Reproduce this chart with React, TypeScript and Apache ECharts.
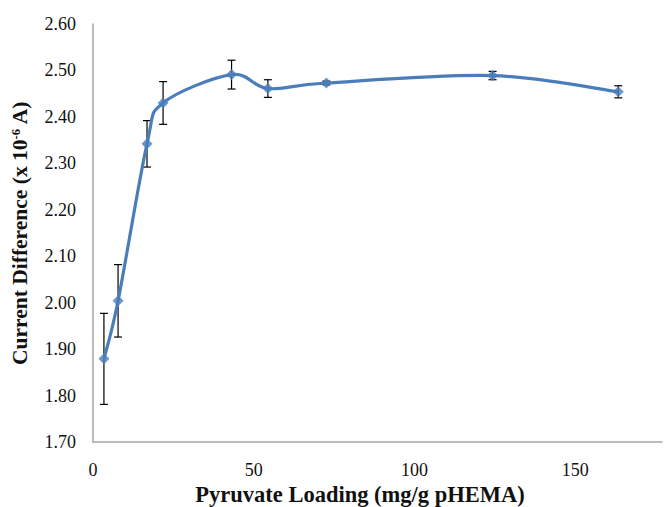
import React, { useEffect, useRef } from "react";
import * as echarts from "echarts";

const loading = [3.4, 7.8, 16.8, 21.8, 43.1, 54.4, 72.6, 124.3, 163.4];
const current = [1.879, 2.004, 2.342, 2.43, 2.491, 2.461, 2.473, 2.489, 2.454];
const errors = [0.098, 0.078, 0.05, 0.046, 0.031, 0.019, 0.004, 0.009, 0.013];
const xTicks = [0, 50, 100, 150];
const yTickLabels = ["1.70", "1.80", "1.90", "2.00", "2.10", "2.20", "2.30", "2.40", "2.50", "2.60"];

const SERIF = "Liberation Serif";
const BLUE = "#4a7ebb";

export default function App() {
  const ref = useRef<HTMLDivElement>(null);
  useEffect(() => {
    if (!ref.current) return;
    const chart = echarts.init(ref.current, null, { renderer: "svg" });
    const lineData = loading.map((x, i) => [x, current[i]]);
    const errData = loading.map((x, i) => [x, current[i] - errors[i], current[i] + errors[i]]);
    chart.setOption({
      animation: false,
      backgroundColor: "#ffffff",
      grid: { left: 93, right: 2, top: 24, bottom: 65, containLabel: false, outerBoundsMode: "none" },
      xAxis: {
        type: "value",
        min: xTicks[0],
        max: 177,
        interval: 50,
        axisLine: { show: true, lineStyle: { color: "#a6a6a6", width: 1.5 } },
        axisTick: { show: false },
        splitLine: { show: false },
        axisLabel: {
          showMaxLabel: false,
          margin: 19,
          color: "#111",
          fontFamily: SERIF,
          fontSize: 18,
        },
      },
      yAxis: {
        type: "value",
        min: 1.7,
        max: 2.6,
        interval: 0.1,
        axisLine: { show: true, lineStyle: { color: "#a6a6a6", width: 1.5 } },
        axisTick: { show: false },
        splitLine: { show: false },
        axisLabel: {
          margin: 17,
          color: "#111",
          fontFamily: SERIF,
          fontSize: 18,
          formatter: (v: number) => {
            const idx = Math.round((v - 1.7) * 10);
            return yTickLabels[idx] ?? v.toFixed(2);
          },
        },
        name: "{a|Current Difference (x 10}{s|-6}{a| A)}",
        nameLocation: "middle",
        nameGap: 62,
        nameTextStyle: {
          rich: {
            a: { fontFamily: SERIF, fontSize: 21.5, fontWeight: "bold", color: "#111" },
            s: { fontFamily: SERIF, fontSize: 12.5, fontWeight: "bold", color: "#111", verticalAlign: "top", padding: [0, 0, 9, 0] },
          },
        },
      },
      graphic: [
        {
          type: "text",
          x: 360,
          y: 483,
          style: {
            text: "Pyruvate Loading (mg/g pHEMA)",
            fontFamily: SERIF,
            fontSize: 22.5,
            fontWeight: "bold",
            fill: "#111",
            textAlign: "center",
          },
        },
      ],
      series: [
        {
          type: "custom",
          z: 1,
          encode: { x: 0, y: [1, 2] },
          data: errData,
          renderItem: (params: any, api: any) => {
            const x = api.value(0);
            const lo = api.coord([x, api.value(1)]);
            const hi = api.coord([x, api.value(2)]);
            const cap = 4;
            const style = { stroke: "#000", lineWidth: 1.2 };
            return {
              type: "group",
              children: [
                { type: "line", shape: { x1: lo[0], y1: lo[1], x2: hi[0], y2: hi[1] }, style },
                { type: "line", shape: { x1: lo[0] - cap, y1: lo[1], x2: lo[0] + cap, y2: lo[1] }, style },
                { type: "line", shape: { x1: hi[0] - cap, y1: hi[1], x2: hi[0] + cap, y2: hi[1] }, style },
              ],
            };
          },
        },
        {
          type: "custom",
          z: 2,
          encode: { x: 0, y: 1 },
          data: [lineData[0]],
          renderItem: (params: any, api: any) => {
            const pts = lineData.map((d) => api.coord(d));
            const n = pts.length;
            let d = `M${pts[0][0]},${pts[0][1]}`;
            for (let i = 0; i < n - 1; i++) {
              const p0 = pts[Math.max(0, i - 1)];
              const p1 = pts[i];
              const p2 = pts[i + 1];
              const p3 = pts[Math.min(n - 1, i + 2)];
              const c1x = p1[0] + (p2[0] - p0[0]) / 6;
              const c1y = p1[1] + (p2[1] - p0[1]) / 6;
              const c2x = p2[0] - (p3[0] - p1[0]) / 6;
              const c2y = p2[1] - (p3[1] - p1[1]) / 6;
              d += ` C${c1x},${c1y} ${c2x},${c2y} ${p2[0]},${p2[1]}`;
            }
            return {
              type: "path",
              shape: { pathData: d },
              style: { stroke: BLUE, lineWidth: 3.2, fill: "none" },
            };
          },
        },
        {
          type: "scatter",
          z: 3,
          data: lineData,
          symbol: "diamond",
          symbolSize: 11,
          itemStyle: { color: BLUE },
        },
      ],
    });
    return () => chart.dispose();
  }, []);
  return (
    <div
      ref={ref}
      style={{ position: "fixed", left: 0, top: 0, width: 664, height: 507 }}
    />
  );
}
